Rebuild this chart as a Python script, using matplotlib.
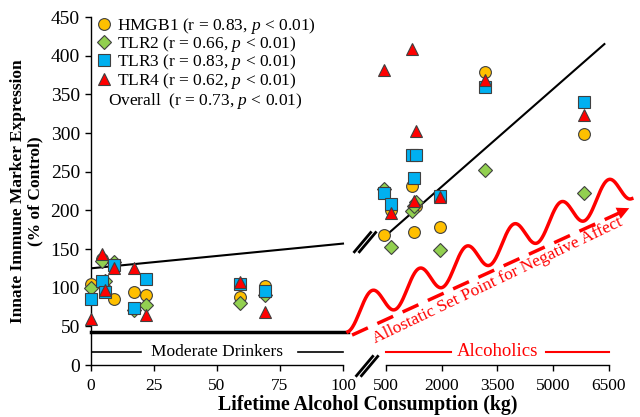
import numpy as np
import matplotlib
matplotlib.use('Agg')
import matplotlib.pyplot as plt
from matplotlib.lines import Line2D

plt.rcParams['font.family']=['Liberation Serif','DejaVu Serif']
plt.rcParams['mathtext.fontset']='custom'
plt.rcParams['mathtext.rm']='Liberation Serif'
plt.rcParams['mathtext.it']='Liberation Serif:italic'

# lifetime alcohol consumption (kg), moderate drinkers then alcoholics
x_moderate=[0,4.5,5.5,9,17,22,59,69]
x_alcoholic=[480,640,1190,1300,1260,1940,3170,5820]
x_kg=x_moderate+x_alcoholic

hmgb1=[105,137,98,85,95,90,88,102, 168,200,231,205,172,178,379,299]
tlr2=[99,135,108,133,71,77,80,91, 228,153,199,211,206,149,252,223]
tlr3=[85,108,95,129,74,111,105,96, 222,208,272,272,242,218,359,340]
tlr4=[60,143,97,126,126,65,107,68, 382,197,409,302,212,217,369,323]

labels=['HMGB1 (r = 0.83, $p$ < 0.01)','TLR2 (r = 0.66, $p$ < 0.01)',
        'TLR3 (r = 0.83, $p$ < 0.01)','TLR4 (r = 0.62, $p$ < 0.01)']
overall_label='Overall  (r = 0.73, $p$ < 0.01)'

# overall fit lines (drawn per group)
fit_moderate_x=[0,100]; fit_moderate_y=[125,157]
fit_alcoholic_x=[608,6376]; fit_alcoholic_y=[172,415]

xticks=[0,25,50,75,100,500,2000,3500,5000,6500]

# broken axis: 0-100 linear, short gap, 500-6500 compressed
GAP=17.06; RIGHT=88.5
def fwd(x):
    x=np.asarray(x,dtype=float)
    return np.where(x<=100,x,np.where(x<=500,100+(x-100)*GAP/400,100+GAP+(x-500)*RIGHT/6000))
def inv(u):
    u=np.asarray(u,dtype=float)
    return np.where(u<=100,u,np.where(u<=100+GAP,100+(u-100)*400/GAP,500+(u-100-GAP)*6000/RIGHT))

fig=plt.figure(figsize=(6.4,4.17),dpi=100)
ax=fig.add_axes([91/640,52/417,518/640,348/417])
ax.set_xscale('function',functions=(fwd,inv))
ax.set_xlim(0,6500)
ax.set_ylim(0,450)

styles=[('o','#FFC000',8.5),('D','#92D050',7.2),('s','#00B0F0',8),('^','#FF0000',9)]
for vals,(m,c,ms) in zip([hmgb1,tlr2,tlr3,tlr4],styles):
    ax.plot(x_kg,vals,linestyle='none',marker=m,markersize=ms,markerfacecolor=c,
            markeredgecolor='#404040',markeredgewidth=0.8,zorder=3,clip_on=False)

ax.plot(fit_moderate_x,fit_moderate_y,color='black',lw=1.5,zorder=2)
ax.plot(fit_alcoholic_x,fit_alcoholic_y,color='black',lw=1.5,zorder=2)

# spines
for s in ['top','right']:
    ax.spines[s].set_visible(False)
ax.spines['bottom'].set_bounds(0,100)
ax.plot([500,6500],[0,0],color='black',lw=1,clip_on=False,zorder=1)
ax.spines['left'].set_linewidth(1)
ax.spines['bottom'].set_linewidth(1)
ax.set_xticks(xticks)
ax.set_xticklabels([str(t) for t in xticks])
ax.minorticks_off()
ax.set_yticks(range(0,451,50))
ax.tick_params(direction='out',length=4,width=1,labelsize=12.5,pad=5)
ax.tick_params(axis='y',labelsize=14,pad=4)

ax.set_xlabel('Lifetime Alcohol Consumption (kg)',fontsize=14.3,fontweight='bold')
ax.xaxis.set_label_coords(0.535,-0.085)
ax.set_ylabel('Innate Immune Marker Expression\n(% of Control)',fontsize=12.5,fontweight='bold',labelpad=5,linespacing=1.1)

# legend
handles=[Line2D([],[],linestyle='none',marker=m,markersize=ms,markerfacecolor=c,
                markeredgecolor='#404040',markeredgewidth=0.8) for m,c,ms in styles]
ax.legend(handles,labels,loc='upper left',bbox_to_anchor=(-0.018,1.043),frameon=False,
          fontsize=12.5,handlelength=1.0,handletextpad=0.25,labelspacing=-0.1,borderpad=0.3)
ax.text(0.033,0.760,overall_label,transform=ax.transAxes,fontsize=12.5,va='center',ha='left')

# baseline then allostatic wave
ytr=ax.get_yaxis_transform()
ax.plot([0,0.496],[43,43],color='black',lw=2.5,transform=ytr,clip_on=False)
xf=np.linspace(0.496,1.044,500)
yf=0.1707+0.698*(xf-0.5419)+0.0431*np.cos(2*np.pi*(xf-0.5419)/0.0913)
ax.plot(xf,yf,color='red',lw=2.5,transform=ax.transAxes,clip_on=False)

# dashed set point arrow
ax.plot([0.504,1.02],[0.086,0.437],color='red',lw=2.5,linestyle=(0,(5,3)),
        transform=ax.transAxes,clip_on=False)
ax.annotate('',xy=(1.044,0.454),xytext=(1.0,0.424),xycoords='axes fraction',
            arrowprops=dict(arrowstyle='-|>',color='red',lw=0,mutation_scale=22),annotation_clip=False)
ax.text(0.788,0.232,'Allostatic Set Point for Negative Affect',color='red',fontsize=12.5,
        rotation=25.5,rotation_mode='anchor',ha='center',va='baseline',transform=ax.transAxes)

# group labels
ax.plot([0,20],[17,17],color='black',lw=1.2)
ax.plot([82,100],[17,17],color='black',lw=1.2)
ax.text(50,17,'Moderate Drinkers',ha='center',va='center',fontsize=12.5)
ax.plot([500,2250],[17,17],color='red',lw=1.5,clip_on=False)
ax.plot([4800,6500],[17,17],color='red',lw=1.5,clip_on=False)
ax.text(3500,17,'Alcoholics',ha='center',va='center',fontsize=13.5,color='red')

# break marks
for cx,cy in [(0.533,-0.003),(0.529,0.353)]:
    for off in (-0.0048,0.0048):
        ax.plot([cx+off-0.0174,cx+off+0.0174],[cy-0.0308,cy+0.0308],color='black',lw=2,
                transform=ax.transAxes,clip_on=False,solid_capstyle='butt')

fig.savefig('out.png',dpi=100)
